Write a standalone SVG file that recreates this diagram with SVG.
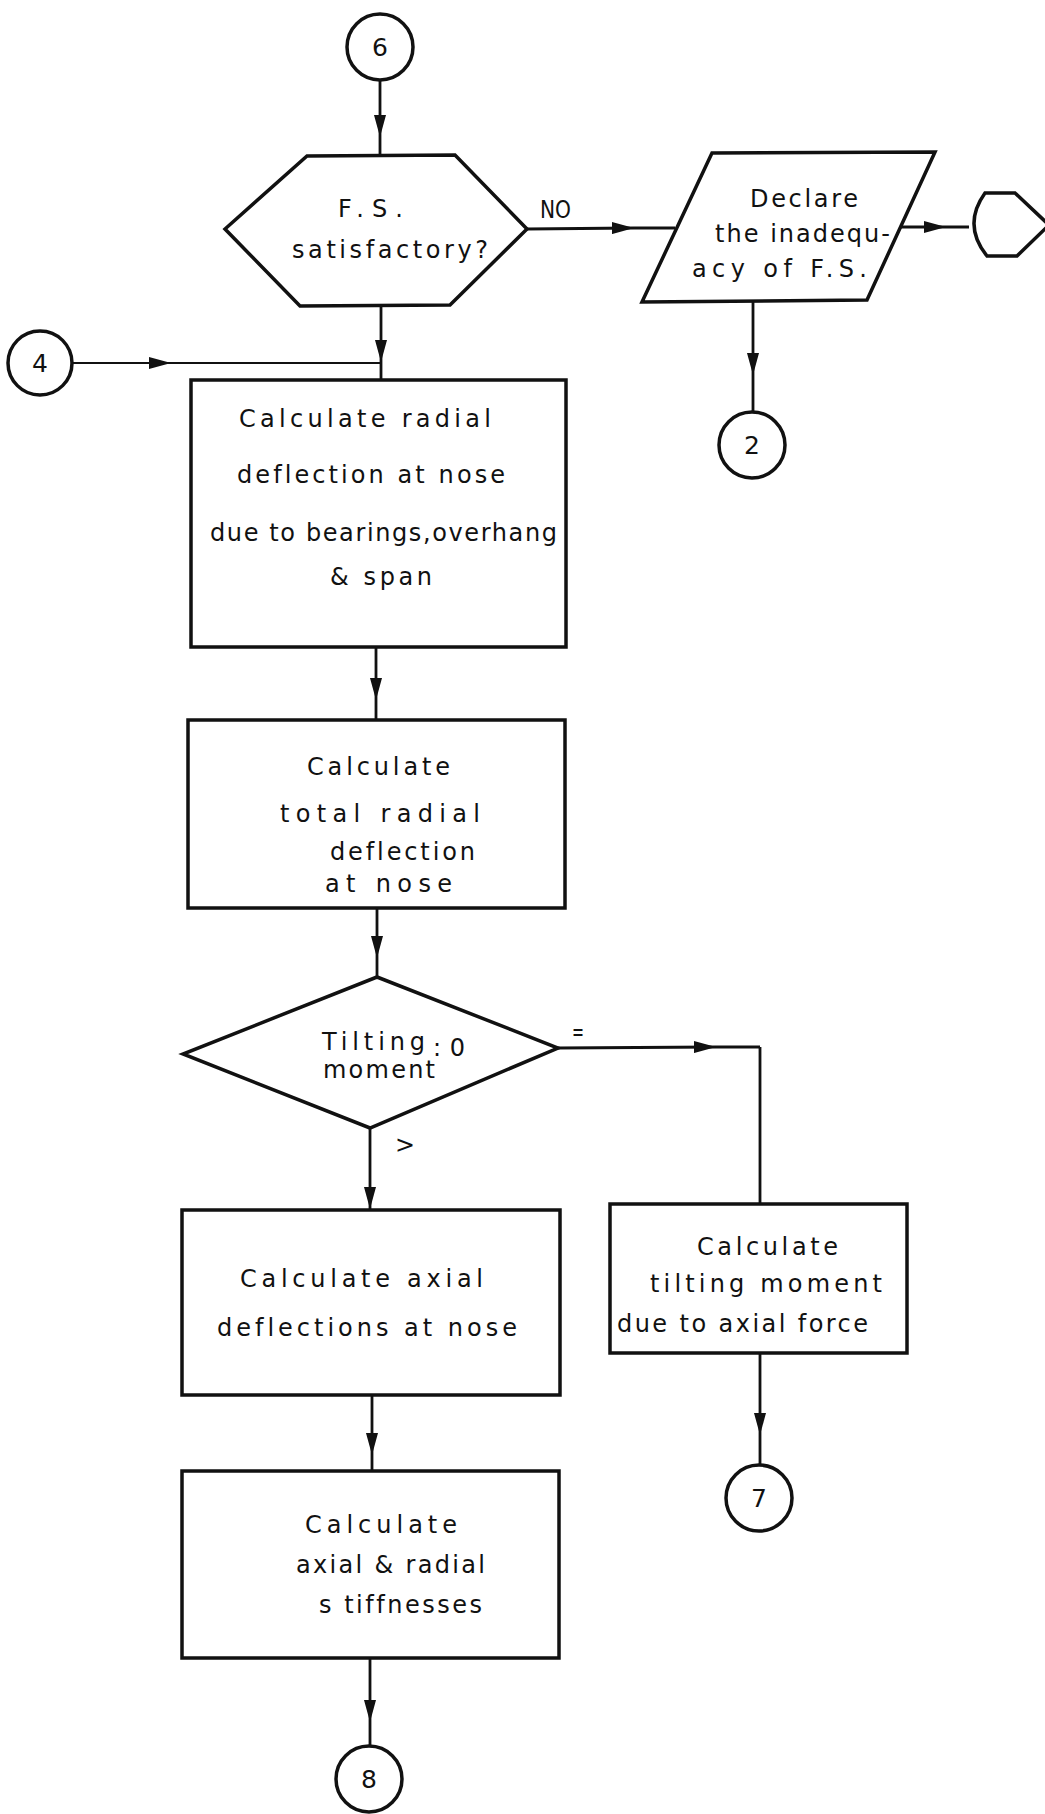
<svg xmlns="http://www.w3.org/2000/svg" width="1045" height="1814" viewBox="0 0 1045 1814">
  <style>
    .shape { fill: #fff; stroke: #111; stroke-width: 3.5; stroke-linejoin: miter; }
    .conn { fill: none; stroke: #111; stroke-width: 2.8; }
    .conn-thin { fill: none; stroke: #111; stroke-width: 2.2; }
    text { font-family: "DejaVu Sans", "Liberation Sans", sans-serif; font-size: 24px; fill: #111; font-variant-ligatures: none; }
    .num { text-anchor: middle; font-size: 25px; }
  </style>
  <defs>
    <marker id="arrow" viewBox="0 0 22 12" refX="22" refY="6" markerWidth="22" markerHeight="12" markerUnits="userSpaceOnUse" orient="auto">
      <path d="M0,0 L22,6 L0,12 Z" fill="#111"/>
    </marker>
  </defs>

  <rect width="1045" height="1814" fill="#fff"/>

  <!-- connectors: arrowheads sit at the middle vertex of each run -->
  <g id="connectors">
    <polyline class="conn" points="380,79 380,137 380,156" marker-mid="url(#arrow)"/>
    <polyline class="conn" points="527,229 634,228 675,228" marker-mid="url(#arrow)"/>
    <polyline class="conn" points="900,227 946,227 969,227" marker-mid="url(#arrow)"/>
    <polyline class="conn" points="753,302 753,375 753,412" marker-mid="url(#arrow)"/>
    <polyline class="conn" points="381,305 381,362 381,380" marker-mid="url(#arrow)"/>
    <polyline class="conn-thin" points="72,363 171,363 381,363" marker-mid="url(#arrow)"/>
    <polyline class="conn" points="376,647 376,700 376,720" marker-mid="url(#arrow)"/>
    <polyline class="conn" points="377,908 377,958 377,977" marker-mid="url(#arrow)"/>
    <polyline class="conn" points="370,1128 370,1209" marker-end="url(#arrow)"/>
    <polyline class="conn" points="558,1048 716,1047 760,1047" marker-mid="url(#arrow)"/>
    <polyline class="conn" points="760,1047 760,1204"/>
    <polyline class="conn" points="760,1353 760,1435 760,1465" marker-mid="url(#arrow)"/>
    <polyline class="conn" points="372,1395 372,1455 372,1471" marker-mid="url(#arrow)"/>
    <polyline class="conn" points="370,1658 370,1722 370,1746" marker-mid="url(#arrow)"/>
  </g>

  <!-- connector labels -->
  <text x="540" y="218" textLength="31" lengthAdjust="spacingAndGlyphs">NO</text>
  <text x="572" y="1040" textLength="12" lengthAdjust="spacingAndGlyphs">=</text>
  <text x="395" y="1153" textLength="20" lengthAdjust="spacingAndGlyphs">&gt;</text>

  <g id="conn6">
    <circle class="shape" cx="380" cy="47" r="33"/>
    <text class="num" x="380" y="56">6</text>
  </g>

  <g id="fs-check">
    <polygon class="shape" points="307,156 455,155 527,229 450,305 300,306 225,229"/>
    <text x="338" y="217" textLength="65">F.S.</text>
    <text x="292" y="258" textLength="196">satisfactory?</text>
  </g>

  <g id="declare">
    <polygon class="shape" points="712,153 935,152 867,300 642,302"/>
    <text x="750" y="207" textLength="108">Declare</text>
    <text x="715" y="242" textLength="175">the inadequ-</text>
    <text x="692" y="277" textLength="175">acy of F.S.</text>
  </g>

  <g id="terminal">
    <path class="shape" d="M985,193 L1015,193 L1049,225 L1017,256 L987,256 Q962,225 985,193 Z"/>
  </g>

  <g id="conn2">
    <circle class="shape" cx="752" cy="445" r="33"/>
    <text class="num" x="752" y="454">2</text>
  </g>

  <g id="conn4">
    <circle class="shape" cx="40" cy="363" r="32"/>
    <text class="num" x="40" y="372">4</text>
  </g>

  <g id="radial-deflection">
    <rect class="shape" x="191" y="380" width="375" height="267"/>
    <text x="239" y="427" textLength="252">Calculate radial</text>
    <text x="237" y="483" textLength="268">deflection at nose</text>
    <text x="210" y="541" textLength="347">due to bearings,overhang</text>
    <text x="330" y="585" textLength="102">&amp; span</text>
  </g>

  <g id="total-deflection">
    <rect class="shape" x="188" y="720" width="377" height="188"/>
    <text x="307" y="775" textLength="143">Calculate</text>
    <text x="280" y="822" textLength="200">total radial</text>
    <text x="330" y="860" textLength="145">deflection</text>
    <text x="325" y="892" textLength="127">at nose</text>
  </g>

  <g id="tilting-check">
    <polygon class="shape" points="377,977 558,1048 370,1128 183,1054"/>
    <text x="322" y="1050" textLength="103">Tilting</text>
    <text x="433" y="1056" textLength="32">:0</text>
    <text x="323" y="1078" textLength="112">moment</text>
  </g>

  <g id="tilting-moment">
    <rect class="shape" x="610" y="1204" width="297" height="149"/>
    <text x="697" y="1255" textLength="141">Calculate</text>
    <text x="650" y="1292" textLength="232">tilting moment</text>
    <text x="617" y="1332" textLength="251">due to axial force</text>
  </g>

  <g id="conn7">
    <circle class="shape" cx="759" cy="1498" r="33"/>
    <text class="num" x="759" y="1507">7</text>
  </g>

  <g id="axial-deflection">
    <rect class="shape" x="182" y="1210" width="378" height="185"/>
    <text x="240" y="1287" textLength="243">Calculate axial</text>
    <text x="217" y="1336" textLength="300">deflections at nose</text>
  </g>

  <g id="stiffness">
    <rect class="shape" x="182" y="1471" width="377" height="187"/>
    <text x="305" y="1533" textLength="152">Calculate</text>
    <text x="296" y="1573" textLength="189">axial &amp; radial</text>
    <text x="319" y="1613" textLength="163">s tiffnesses</text>
  </g>

  <g id="conn8">
    <circle class="shape" cx="369" cy="1779" r="33"/>
    <text class="num" x="369" y="1788">8</text>
  </g>
</svg>
